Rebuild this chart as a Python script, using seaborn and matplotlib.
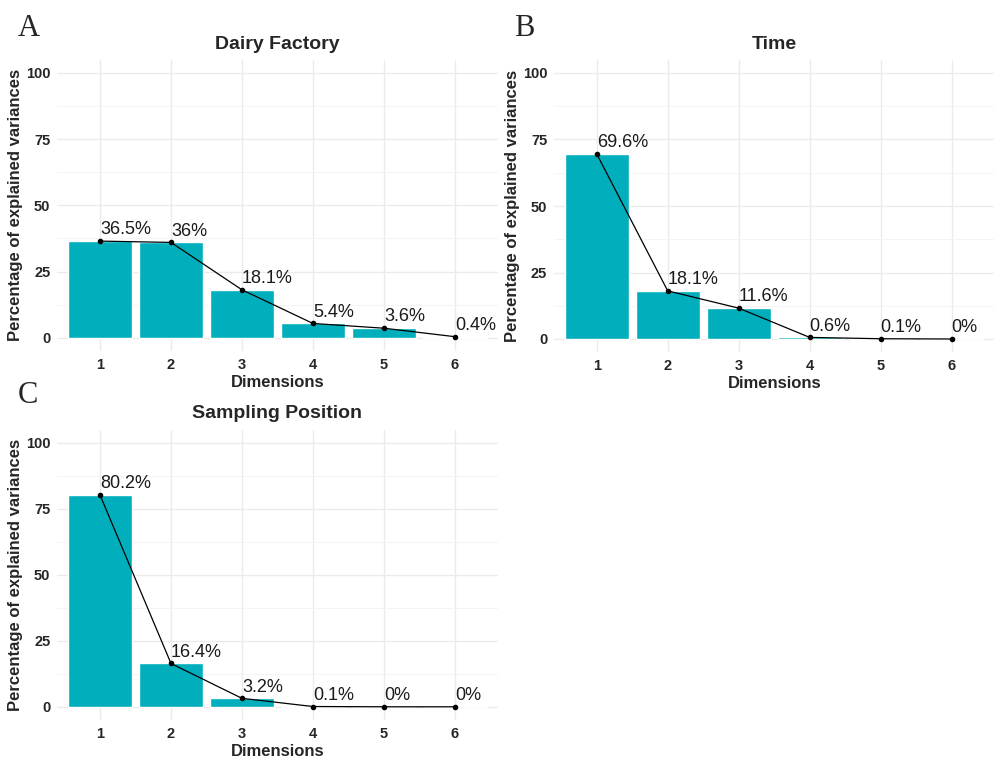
import numpy as np
import pandas as pd
import matplotlib
matplotlib.use('Agg')
import matplotlib.pyplot as plt
import seaborn as sns

sns.set_style("white")
plt.rcParams['font.family'] = ['Liberation Sans', 'DejaVu Sans']

dimensions = ['1', '2', '3', '4', '5', '6']
dairy_factory = [36.5, 36.0, 18.1, 5.4, 3.6, 0.4]
time_var = [69.6, 18.1, 11.6, 0.6, 0.1, 0.0]
sampling_position = [80.2, 16.4, 3.2, 0.1, 0.0, 0.0]
label_dairy = ['36.5%', '36%', '18.1%', '5.4%', '3.6%', '0.4%']
label_time = ['69.6%', '18.1%', '11.6%', '0.6%', '0.1%', '0%']
label_sampling = ['80.2%', '16.4%', '3.2%', '0.1%', '0%', '0%']

BAR_COLOR = '#00AFBB'
W, H = 995, 758

fig = plt.figure(figsize=(W / 100, H / 100), dpi=100)


def px_axes(left, right, top, bottom):
    return fig.add_axes([left / W, 1 - bottom / H, (right - left) / W, (bottom - top) / H])


def scree(ax, values, labels, title):
    df = pd.DataFrame({'dim': dimensions, 'var': values})
    sns.barplot(data=df, x='dim', y='var', color=BAR_COLOR, saturation=1,
                width=0.9, ax=ax, zorder=2)
    xs = np.arange(len(values))
    ax.plot(xs, values, color='black', lw=0.9, zorder=3)
    ax.scatter(xs, values, color='black', s=9, zorder=4)
    for x, v, lab in zip(xs, values, labels):
        ax.annotate(lab, (x, v), xytext=(0, 2), textcoords='offset points',
                    ha='left', va='bottom', fontsize=13, color='#1a1a1a', zorder=5)
    ax.set_xlim(-0.6, 5.6)
    ax.set_ylim(-5, 105)
    ax.set_yticks([0, 25, 50, 75, 100])
    ax.set_yticks([12.5, 37.5, 62.5, 87.5], minor=True)
    ax.grid(True, which='major', color='#EBEBEB', lw=1.0, zorder=0)
    ax.grid(True, which='minor', axis='y', color='#F3F3F3', lw=0.6, zorder=0)
    ax.set_axisbelow(True)
    for s in ax.spines.values():
        s.set_visible(False)
    ax.tick_params(axis='both', which='major', length=3.5, width=0.8, color='#555555',
                   labelsize=10.5, pad=1.5)
    ax.tick_params(axis='y', which='minor', length=0)
    for t in ax.get_xticklabels() + ax.get_yticklabels():
        t.set_fontweight('bold')
    ax.set_xlabel('Dimensions', fontsize=12, fontweight='bold', labelpad=2)
    ax.set_ylabel('Percentage of explained variances', fontsize=12, fontweight='bold', labelpad=2)
    ax.set_title(title, fontsize=14, fontweight='bold', pad=8)


ax_a = px_axes(57.4, 497.6, 59.7, 351.0)
scree(ax_a, dairy_factory, label_dairy, 'Dairy Factory')

ax_b = px_axes(554.1, 994.3, 59.7, 352.3)
scree(ax_b, time_var, label_time, 'Time')

ax_c = px_axes(57.4, 497.6, 429.5, 720.0)
scree(ax_c, sampling_position, label_sampling, 'Sampling Position')

for letter, x, y in [('A', 18, 36), ('B', 514, 36), ('C', 18, 403)]:
    fig.text(x / W, 1 - y / H, letter, fontsize=22, family='Liberation Serif',
             ha='left', va='baseline')

fig.savefig('out.png', dpi=100)
